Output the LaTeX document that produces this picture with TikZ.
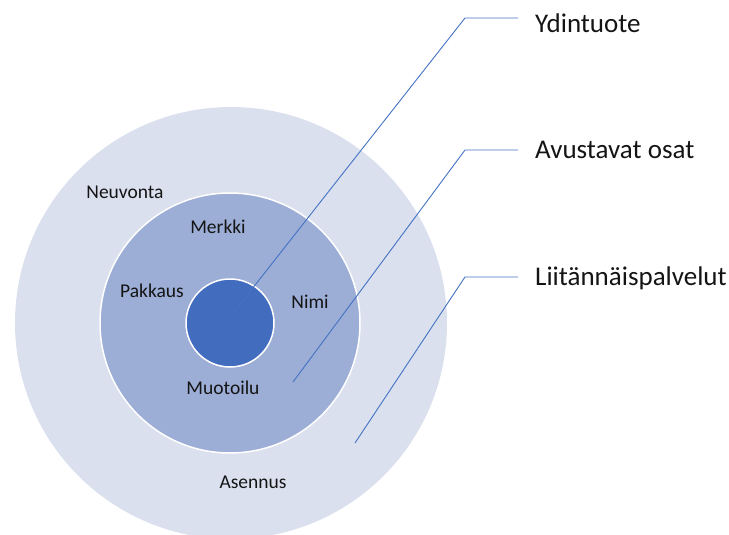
\documentclass[tikz,border=0pt]{standalone}
\usepackage{fontspec}
\setmainfont{Carlito}
\usepackage{xcolor}
\usetikzlibrary{positioning}
\definecolor{accent}{RGB}{68,114,196}
\definecolor{ringout}{RGB}{218,224,238}
\definecolor{ringmid}{RGB}{156,173,214}
\definecolor{ringin}{RGB}{66,108,190}
\definecolor{ink}{RGB}{20,20,20}

\begin{document}
\begin{tikzpicture}[x=1pt,y=-1pt,
  ring/.style={circle,draw=white,line width=1.5pt,inner sep=0pt},
  part/.style={font=\fontsize{19.5}{21}\selectfont,text=ink,anchor=base,inner sep=0pt},
  lab/.style={font=\fontsize{27}{29}\selectfont,text=ink,anchor=base west,inner sep=0pt},
  callout/.style={draw=accent,line width=0.9pt}]
\useasboundingbox (0,0) rectangle (729,535);
\clip (0,0) rectangle (729,535);
\node[ring,fill=ringout,draw=none,minimum size=432pt] (outer) at (231,323) {};
\node[ring,fill=ringmid,minimum size=260pt] (mid) at (230,323) {};
\node[ring,fill=ringin,minimum size=88pt] (core) at (230,323) {};
% labels in the rings
\node[part] (neuvonta) at (125,198) {Neuvonta};
\node[part] (asennus) at (253,488) {Asennus};
\node[part] (merkki) at (218,233) {Merkki};
\node[part] (pakkaus) at (152,297) {Pakkaus};
\node[part] (nimi) at (310,308) {Nimi};
\node[part] (muotoilu) at (223,394) {Muotoilu};
% callout labels
\node[lab] (ydin) at (535,33) {Ydintuote};
\node[lab] (avust) at (535,158) {Avustavat osat};
\node[lab] (liit) at (535,285) {Liitännäispalvelut};
\coordinate (s1) at (230,317);
\coordinate (s2) at (293,382);
\coordinate (s3) at (355,443);
\coordinate (e1) at (465,18);
\coordinate (e2) at (465,150);
\coordinate (e3) at (465,277);
\foreach \s/\e/\l in {s1/e1/ydin,s2/e2/avust,s3/e3/liit}{
  \path (\l.west) ++(-17,0) coordinate (t\l);
  \draw[callout] (\s) -- (\e) -- (\e -| t\l);
}
\end{tikzpicture}
\end{document}
